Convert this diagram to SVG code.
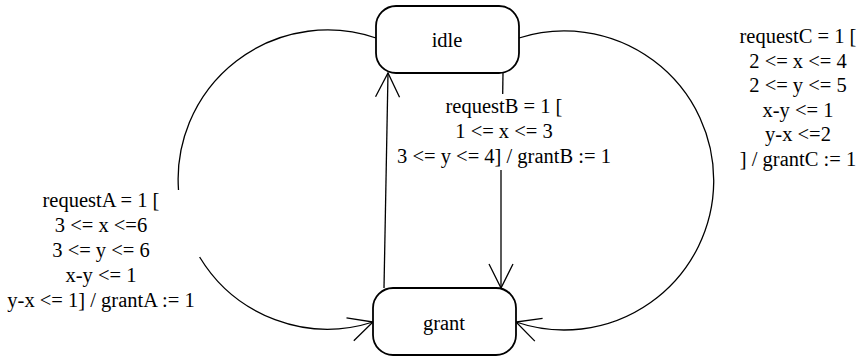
<svg xmlns="http://www.w3.org/2000/svg" width="862" height="359" viewBox="0 0 862 359">
<style>
.node{fill:#fff;stroke:#000;stroke-width:1.8}
text{font-family:'Liberation Serif','Times New Roman',Times,serif;font-size:20.5px;fill:#000;text-anchor:middle}
.e{fill:none;stroke:#000;stroke-width:1.3}
</style>
<defs>
<marker id="arr" markerWidth="30" markerHeight="30" refX="24" refY="12" orient="auto" markerUnits="userSpaceOnUse" overflow="visible">
<path d="M0,0 L24,12 L0,24" fill="none" stroke="#000" stroke-width="1.3"/>
</marker>
</defs>
<rect width="862" height="359" fill="#fff"/>
<g id="connectors" font-family="Liberation Serif, serif">
<path class="e" d="M376,38 A149.5,149.5 0 0,0 178.5,190"/>
<path class="e" d="M199.6,257 A149.5,149.5 0 0,0 373,322" marker-end="url(#arr)"/>
<path class="e" d="M519,38 A149.5,149.5 0 1,1 516,322" marker-end="url(#arr)"/>
<path class="e" d="M384,288 L388,73" marker-end="url(#arr)"/>
<path class="e" d="M503,73 L502.7,94"/>
<path class="e" d="M501,170 L501,288" marker-end="url(#arr)"/>
<text x="101" y="207">requestA = 1 [<tspan x="101" y="232">3 &lt;= x &lt;=6</tspan><tspan x="101" y="257">3 &lt;= y &lt;= 6</tspan><tspan x="101" y="282">x-y &lt;= 1</tspan><tspan x="101" y="307">y-x &lt;= 1] / grantA := 1</tspan></text>
<text x="504" y="113">requestB = 1 [<tspan x="504" y="138">1 &lt;= x &lt;= 3</tspan><tspan x="504" y="163">3 &lt;= y &lt;= 4] / grantB := 1</tspan></text>
<text x="798" y="43">requestC = 1 [<tspan x="798" y="67.5">2 &lt;= x &lt;= 4</tspan><tspan x="798" y="92">2 &lt;= y &lt;= 5</tspan><tspan x="798" y="116.5">x-y &lt;= 1</tspan><tspan x="798" y="141">y-x &lt;=2</tspan><tspan x="798" y="165.5">] / grantC := 1</tspan></text>
</g>
<g id="idle" font-family="Liberation Serif, serif">
<rect class="node" x="376" y="6" width="143" height="67" rx="20" ry="20"/>
<text x="447" y="47">idle</text>
</g>
<g id="grant" font-family="Liberation Serif, serif">
<rect class="node" x="373" y="288" width="143" height="67" rx="20" ry="20"/>
<text x="444" y="330">grant</text>
</g>
</svg>
